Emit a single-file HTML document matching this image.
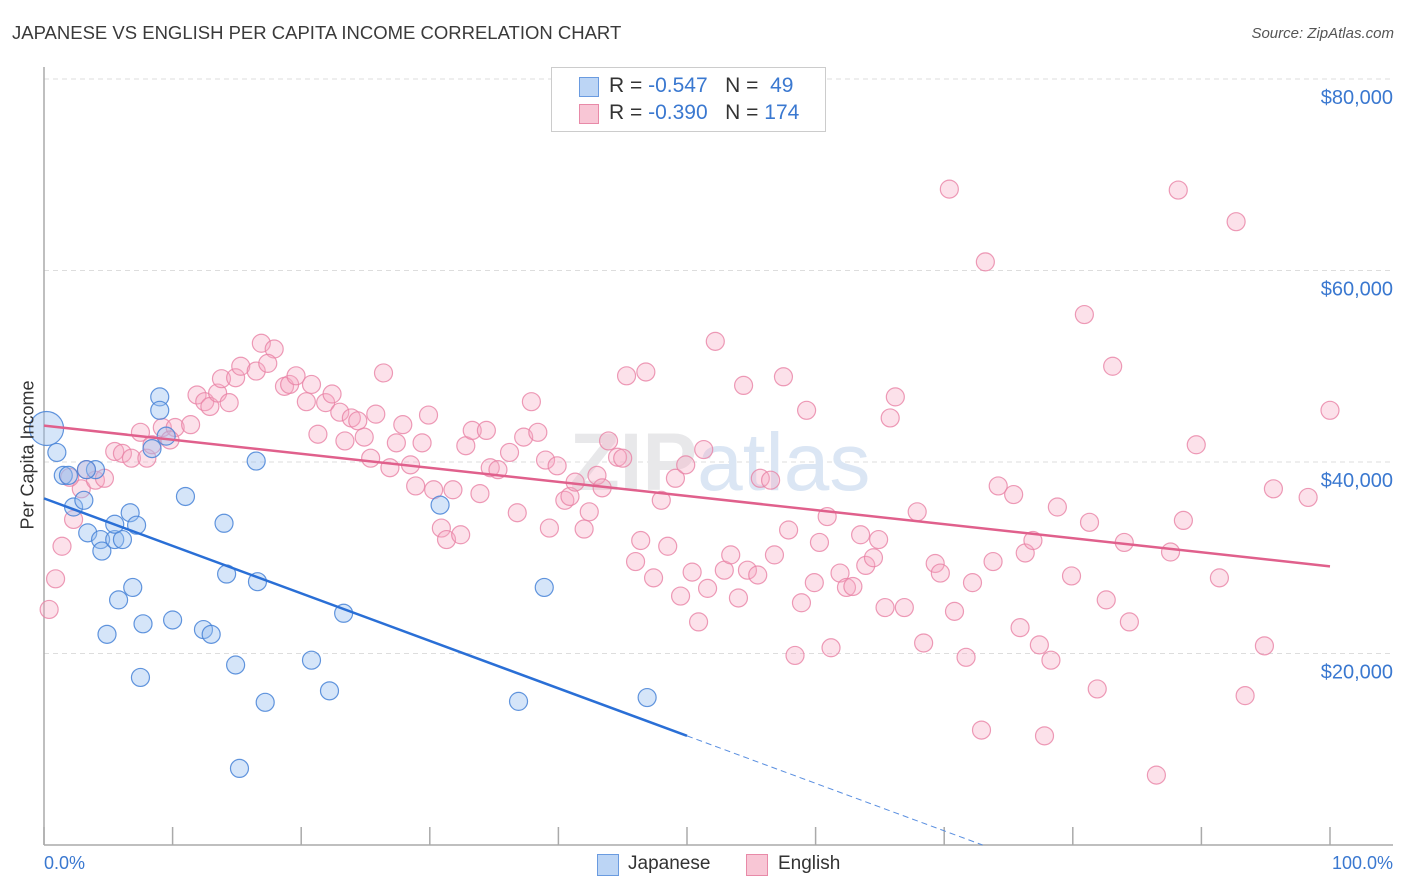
<!DOCTYPE html>
<html><head><meta charset="utf-8"><style>
body{margin:0;background:#fff;font-family:"Liberation Sans",sans-serif;}
#wrap{position:relative;width:1406px;height:892px;overflow:hidden;}
.t{position:absolute;white-space:nowrap;}
</style></head><body>
<div id="wrap">
<div class="t" style="left:12px;top:22px;font-size:18.5px;color:#3a3a3a;">JAPANESE VS ENGLISH PER CAPITA INCOME CORRELATION CHART</div>
<div class="t" style="right:12px;top:25px;font-size:15px;color:#555;font-style:italic;">Source: ZipAtlas.com</div>
<svg id="plot" width="1406" height="892" style="position:absolute;left:0;top:0"></svg>
<div style="position:absolute;left:551px;top:67px;width:273px;height:63px;border:1px solid #ccc;background:#fff;">
 <div style="position:absolute;left:27px;top:9px;width:18px;height:18px;background:#bcd5f5;border:1px solid #6a9be0;"></div>
 <div class="t" style="left:57px;top:6px;font-size:21px;color:#333;">R = <span style="color:#3a78d0">-0.547</span>&nbsp;&nbsp;&nbsp;N = &nbsp;<span style="color:#3a78d0">49</span></div>
 <div style="position:absolute;left:27px;top:36px;width:18px;height:18px;background:#f8c6d5;border:1px solid #e88aa8;"></div>
 <div class="t" style="left:57px;top:33px;font-size:21px;color:#333;">R = <span style="color:#3a78d0">-0.390</span>&nbsp;&nbsp;&nbsp;N = <span style="color:#3a78d0">174</span></div>
</div>
<div class="t" style="left:28px;top:455px;font-size:18px;color:#333;transform:translate(-50%,-50%) rotate(-90deg);">Per Capita Income</div>
<div class="t" style="left:44px;top:853px;font-size:18px;color:#3a78d0;">0.0%</div>
<div class="t" style="right:13px;top:853px;font-size:18px;color:#3a78d0;">100.0%</div>
<div style="position:absolute;left:597px;top:854px;">
 <div style="position:absolute;left:0;top:0;width:20px;height:20px;background:#bcd5f5;border:1px solid #6a9be0;"></div>
 <div class="t" style="left:31px;top:-1px;font-size:19px;color:#333;">Japanese</div></div>
<div style="position:absolute;left:746px;top:854px;">
 <div style="position:absolute;left:0;top:0;width:20px;height:20px;background:#f8c6d5;border:1px solid #e88aa8;"></div>
 <div class="t" style="left:32px;top:-1px;font-size:19px;color:#333;">English</div></div>
</div>
<script>
const yTicks=[20000,40000,60000,80000];
const yTickLabels=["$20,000","$40,000","$60,000","$80,000"];
const japaneseX=[0.2,1,1.5,1.9,4,3.3,2.3,3.1,3.4,4.4,4.5,5.5,6.1,5.5,6.7,7.2,9,9,8.4,9.5,11,14,16.5,14.2,16.6,6.9,5.8,4.9,7.7,10,12.4,13,7.5,14.9,17.2,15.2,20.8,22.2,23.3,30.8,36.9,38.9,46.9];
const japaneseY=[43.5,41.0,38.6,38.6,39.2,39.2,35.3,36.0,32.6,31.9,30.7,31.9,31.9,33.5,34.7,33.4,46.8,45.4,41.4,42.7,36.4,33.6,40.1,28.3,27.5,26.9,25.6,22.0,23.1,23.5,22.5,22,17.5,18.8,14.9,8.0,19.3,16.1,24.2,35.5,15.0,26.9,15.4];
const englishX=[0.4,0.9,1.4,2.3,2.9,2,4,4.7,3.3,5.5,6.1,6.8,8,7.5,9.2,10.2,9.8,8.4,11.4,11.9,12.5,12.9,13.5,14.4,13.8,14.9,15.3,16.5,16.9,17.9,17.4,18.7,19.1,19.6,20.8,20.4,21.9,22.4,23,23.9,24.4,21.3,23.4,24.9,25.8,26.4,25.4,26.9,27.4,27.9,28.5,28.9,29.9,29.4,30.3,31.8,30.9,31.3,32.4,32.8,33.3,34.4,33.9,34.7,35.3,36.2,36.8,37.3,38.4,37.9,39,39.3,39.9,40.5,40.9,41.3,42,42.4,43,43.4,43.9,44.6,45,45.3,46.8,46,46.4,47.4,48,48.5,49.1,49.9,49.5,50.4,50.9,51.3,51.6,52.2,52.9,53.4,54,54.4,54.7,55.5,55.7,56.5,56.8,57.5,57.9,58.4,58.9,59.3,59.9,60.3,60.9,61.2,61.9,62.4,62.9,63.5,63.9,64.5,64.9,65.4,65.8,66.2,66.9,67.9,68.4,69.3,69.7,70.4,70.8,71.7,72.2,72.9,73.2,73.8,74.2,75.4,75.9,76.3,76.9,77.4,77.8,78.3,78.8,79.9,80.9,81.3,81.9,82.6,83.1,84,84.4,86.5,87.6,88.2,88.6,89.6,91.4,92.7,93.4,94.9,95.6,98.3,100];
const englishY=[24.6,27.8,31.2,34.0,37.2,38.4,38.1,38.3,39.2,41.1,40.9,40.4,40.4,43.1,43.6,43.6,42.3,41.8,43.9,47.0,46.3,45.8,47.2,46.2,48.7,48.8,50.0,49.5,52.4,51.8,50.3,47.9,48.1,49.0,48.1,46.3,46.2,47.1,45.2,44.6,44.3,42.9,42.2,42.6,45.0,49.3,40.4,39.4,42.0,43.9,39.7,37.5,44.9,42.0,37.1,37.1,33.1,31.9,32.4,41.7,43.3,43.3,36.7,39.4,39.2,41.0,34.7,42.6,43.1,46.3,40.2,33.1,39.6,36.0,36.4,37.9,33.0,34.8,38.6,37.3,42.2,40.5,40.4,49.0,49.4,29.6,31.8,27.9,36.0,31.2,38.3,39.7,26.0,28.5,23.3,41.3,26.8,52.6,28.7,30.3,25.8,48.0,28.7,28.2,38.3,38.1,30.3,48.9,32.9,19.8,25.3,45.4,27.4,31.6,34.3,20.6,28.4,26.9,27.0,32.4,29.2,30.0,31.9,24.8,44.6,46.8,24.8,34.8,21.1,29.4,28.4,68.5,24.4,19.6,27.4,12.0,60.9,29.6,37.5,36.6,22.7,30.5,31.8,20.9,11.4,19.3,35.3,28.1,55.4,33.7,16.3,25.6,50.0,31.6,23.3,7.3,30.6,68.4,33.9,41.8,27.9,65.1,15.6,20.8,37.2,36.3,45.4];
const japaneseTrend=[36.2,11.4]; // value (k$) at x=0 and x=50
const englishTrend=[43.8,29.1];  // value (k$) at x=0 and x=100
const svg=document.getElementById('plot');
const NS='http://www.w3.org/2000/svg';
const X0=44,X1=1330,Y0=845,PPK=191.5/20;
const sx=v=>X0+(X1-X0)*v/100;
const sy=k=>Y0-k*PPK;
function mk(tag,attrs){const e=document.createElementNS(NS,tag);for(const k in attrs)e.setAttribute(k,attrs[k]);svg.appendChild(e);return e;}
yTicks.forEach((t,i)=>{
 const y=sy(t/1000);
 const g=mk('line',{x1:X0,x2:1393,y1:y,y2:y,stroke:'#ddd','stroke-dasharray':'5,4'});
 
 
 const tx=mk('text',{x:1393,y:y+25,'text-anchor':'end','font-size':20,fill:'#3a78d0','font-family':'Liberation Sans, sans-serif'});
 tx.textContent=yTickLabels[i];
 
 
});
const wm=mk('text',{x:720,y:490,'text-anchor':'middle','font-size':82,fill:'#e8e8ea','font-family':'Liberation Sans, sans-serif','font-weight':'bold'});
wm.innerHTML='ZIP<tspan fill="#dbe6f4" font-weight="normal">atlas</tspan>';


const ax=mk('line',{x1:X0,x2:X0,y1:67,y2:Y0,stroke:'#aaa','stroke-width':1.5});


const bx=mk('line',{x1:X0,x2:1393,y1:Y0,y2:Y0,stroke:'#aaa','stroke-width':1.5});


for(let i=0;i<=10;i++){const x=sx(i*10);const tk=mk('line',{x1:x,x2:x,y1:Y0,y2:827,stroke:'#aaa','stroke-width':1.5});
 
 }
function pts(xs,ys,fill,stroke,name){xs.forEach((v,i)=>{
 const c=mk('circle',{cx:sx(v),cy:sy(ys[i]),r:(name==='japanese-point'&&i===0)?17:9,fill:fill,stroke:stroke,'stroke-width':1.2});
 
 });}
pts(englishX,englishY,'rgba(246,170,195,0.35)','rgba(232,130,165,0.8)','english-point');
pts(japaneseX,japaneseY,'rgba(150,190,240,0.4)','rgba(70,130,215,0.85)','japanese-point');
const slopeJ=(japaneseTrend[1]-japaneseTrend[0])/50;
const xEnd=-japaneseTrend[0]/slopeJ;
const l1=mk('line',{x1:sx(0),y1:sy(japaneseTrend[0]),x2:sx(50),y2:sy(japaneseTrend[1]),stroke:'#2a6fd6','stroke-width':2.5});


const l2=mk('line',{x1:sx(50),y1:sy(japaneseTrend[1]),x2:sx(xEnd),y2:sy(0),stroke:'#5a8fe0','stroke-width':1,'stroke-dasharray':'6,4'});


const l3=mk('line',{x1:sx(0),y1:sy(englishTrend[0]),x2:sx(100),y2:sy(englishTrend[1]),stroke:'#e0608c','stroke-width':2.5});


</script>
</body></html>
